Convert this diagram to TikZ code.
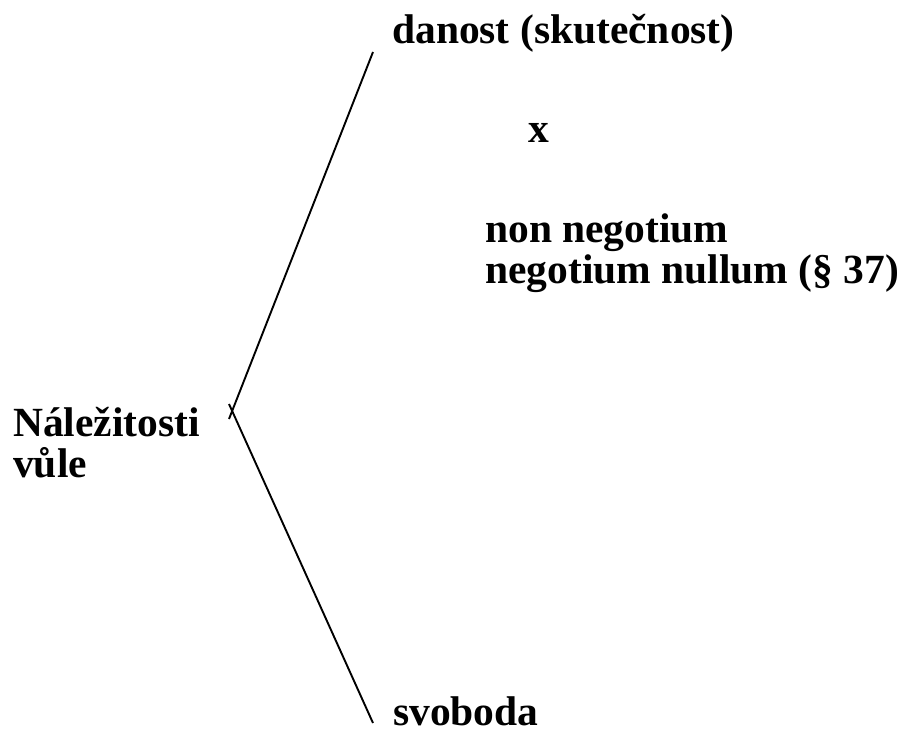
\documentclass[tikz,border=0pt]{standalone}
\usepackage{fontspec}
\setmainfont{Liberation Serif}
\begin{document}
\begin{tikzpicture}[x=1pt,y=-1pt]\tikzset{txt/.style = {anchor=base west, inner sep=0pt, font=\fontsize{41.5}{41}\selectfont\bfseries, align=left}}
		\useasboundingbox (0,0) rectangle (916,736);

		\node[txt] (T_1) at (392,43) {danost (skutečnost)};
		\node[txt] (T_2) at (528,142) {x};
		\node[txt] (T_3) at (485,283) {non negotium\\negotium nullum (§ 37)};
		\node[txt] (T_4) at (13,477) {Náležitosti\\vůle};
		\node[txt] (T_5) at (393,725) {svoboda};

		\coordinate (R_1) at (229,419);
		\coordinate (R_2) at (229,404);
		\coordinate (E_1) at (373,52);
		\coordinate (E_2) at (373,723);

		\draw[line width=1.9pt] (R_1) -- (E_1);
		\draw[line width=1.9pt] (R_2) -- (E_2);
	\end{tikzpicture}
\end{document}
